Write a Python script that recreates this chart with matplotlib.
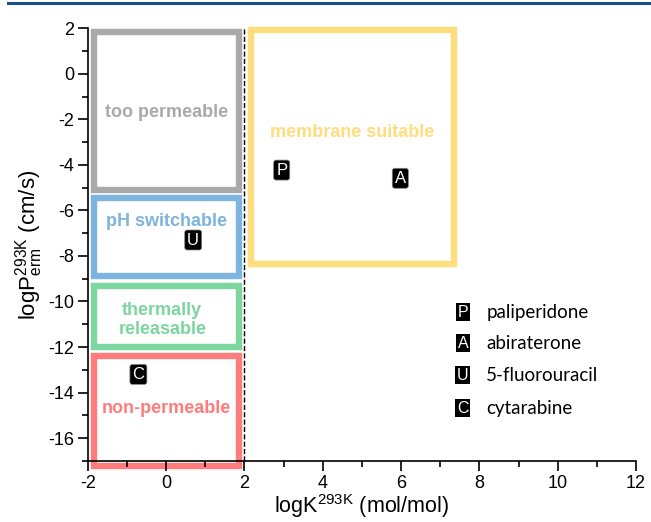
import matplotlib
matplotlib.use("Agg")
import matplotlib.pyplot as plt
from matplotlib.patches import Rectangle
from matplotlib.lines import Line2D
from matplotlib.ticker import MultipleLocator

plt.rcParams['font.family'] = ['Liberation Sans', 'DejaVu Sans']
plt.rcParams['axes.unicode_minus'] = False
plt.rcParams['mathtext.fontset'] = 'custom'
plt.rcParams['mathtext.rm'] = 'Liberation Sans'

# region boxes: (x0, y0, x1, y1), colour, label, label position
box_names = ['too permeable', 'pH switchable', 'thermally\nreleasable', 'non-permeable', 'membrane suitable']
box_x0 = [-1.85, -1.85, -1.85, -1.85, 2.16]
box_x1 = [1.86, 1.86, 1.86, 1.86, 7.34]
box_y0 = [-5.09, -8.89, -12.0, -17.22, -8.35]
box_y1 = [1.84, -5.46, -9.33, -12.39, 1.93]
box_colors = ['#a9a9a9', '#7db5df', '#7dd5a0', '#ff7c7c', '#ffdc7c']
label_x = [0.0, 0.0, -0.1, 0.0, 4.75]
label_y = [-1.7, -6.5, -10.8, -14.7, -2.6]

# compounds
drug_letters = ['P', 'A', 'U', 'C']
drug_names = ['paliperidone', 'abiraterone', '5-fluorouracil', 'cytarabine']
log_k = [2.95, 5.98, 0.69, -0.71]
log_p = [-4.23, -4.59, -7.3, -13.2]

fig = plt.figure(figsize=(6.51, 5.22), dpi=100)
ax = fig.add_axes([0.135, 0.117, 0.842, 0.829])

for x0, x1, y0, y1, c in zip(box_x0, box_x1, box_y0, box_y1, box_colors):
    ax.add_patch(Rectangle((x0, y0), x1 - x0, y1 - y0, fill=False, edgecolor=c,
                           linewidth=4.6, clip_on=False, zorder=1))
for name, lx, ly, c in zip(box_names, label_x, label_y, box_colors):
    ax.text(lx, ly, name, color=c, fontsize=13, fontweight='bold',
            ha='center', va='center', linespacing=1.15)

ax.axvline(2, color='black', linestyle='--', linewidth=1.0, zorder=2)

marker_box = dict(boxstyle='round,pad=0.15,rounding_size=0.15', facecolor='black', edgecolor='#888888', linewidth=0.5)
for letter, xk, yp in zip(drug_letters, log_k, log_p):
    ax.text(xk, yp, letter, color='white', fontsize=12, ha='center', va='center',
            bbox=marker_box, zorder=4)

leg_y = [0.344, 0.272, 0.198, 0.122]
for letter, name, ly in zip(drug_letters, drug_names, leg_y):
    ax.text(0.684, ly, letter, transform=ax.transAxes, color='white', fontsize=11.5,
            ha='center', va='center', bbox=dict(boxstyle='square,pad=0.1', facecolor='black', edgecolor='none'))
    ax.text(0.727, ly, name, transform=ax.transAxes, fontsize=13.5, ha='left', va='center',
            family=['Lato', 'DejaVu Sans'])

ax.set_xlim(-2, 12)
ax.set_ylim(-17, 2)
ax.xaxis.set_major_locator(MultipleLocator(2))
ax.xaxis.set_minor_locator(MultipleLocator(1))
ax.yaxis.set_major_locator(MultipleLocator(2))
ax.yaxis.set_minor_locator(MultipleLocator(1))
ax.spines['top'].set_visible(False)
ax.spines['right'].set_visible(False)
for s in ['left', 'bottom']:
    ax.spines[s].set_linewidth(1.2)
ax.tick_params(which='major', direction='out', length=7, width=1.2, labelsize=13, pad=3)
ax.tick_params(which='minor', direction='out', length=4.5, width=1.2)

ax.set_xlabel(r'logK$^{\mathrm{293K}}$ (mol/mol)', fontsize=15.5, labelpad=0)
ax.set_ylabel(r'logP$_{\mathrm{erm}}^{\mathrm{293K}}$ (cm/s)', fontsize=16, labelpad=2)

fig.add_artist(Line2D([0.012, 1.0], [0.994, 0.994], color='#1b4f8a', linewidth=2.2))

fig.savefig('out.png', dpi=100)
